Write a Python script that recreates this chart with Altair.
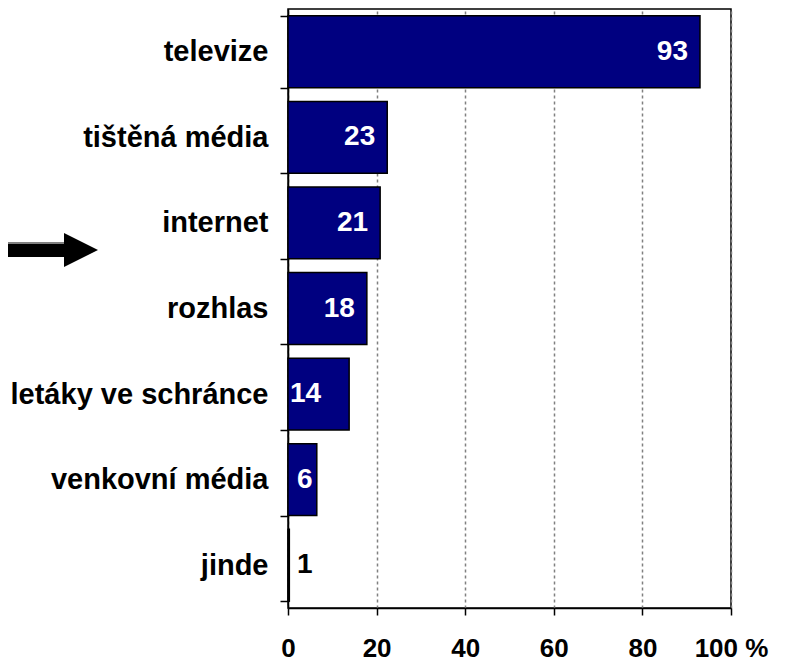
import altair as alt
import pandas as pd

categories = ["televize", "tištěná média", "internet", "rozhlas",
              "letáky ve schránce", "venkovní média", "jinde"]
bar_lengths = [93.0, 22.4, 20.8, 17.8, 13.8, 6.5, 0.3]
labels = [93, 23, 21, 18, 14, 6, 1]
x_ticks = [0, 20, 40, 60, 80, 100]

df = pd.DataFrame({"cat": categories, "share": bar_lengths, "label": labels})

FONT = "Arial"

y_enc = alt.Y(
    "cat:N", sort=categories,
    scale=alt.Scale(paddingInner=0.16, paddingOuter=0.08),
    axis=alt.Axis(title=None, tickBand="extent", labelFont=FONT, labelFontSize=29,
                  labelFontWeight="bold", labelColor="black", labelPadding=12,
                  tickSize=8, tickColor="black", tickWidth=1.5,
                  domainColor="black", domainWidth=1.5, labelLimit=400),
)
x_enc = alt.X(
    "share:Q",
    scale=alt.Scale(domain=[0, 100], nice=False),
    axis=alt.Axis(title=None, values=x_ticks,
                  labelExpr="datum.value == 100 ? '100 %' : datum.label",
                  labelFont=FONT, labelFontSize=26, labelFontWeight="bold",
                  labelColor="black", labelPadding=20, tickSize=7,
                  labelBaseline="top",
                  labelFlush=False, labelOverlap=False,
                  tickColor="black", tickWidth=1.5, domainColor="black",
                  domainWidth=1.5, grid=True, gridColor="#808080",
                  gridDash=[3, 3], gridWidth=1.5),
)

base = alt.Chart(df)

bars = base.mark_bar(color="#000080", stroke="black", strokeWidth=1.5).encode(
    x=x_enc, y=y_enc)

txt_big = base.transform_filter("datum.label >= 15").mark_text(
    align="right", baseline="middle", dx=-12, color="white", font=FONT,
    fontSize=28, fontWeight="bold").encode(
    x="share:Q", y=alt.Y("cat:N", sort=categories), text="label:Q")

txt_mid = base.transform_filter("datum.label < 15 && datum.label >= 10").mark_text(
    align="left", baseline="middle", dx=2, color="white", font=FONT,
    fontSize=28, fontWeight="bold").encode(
    x=alt.datum(0), y=alt.Y("cat:N", sort=categories), text="label:Q")

txt_small = base.transform_filter("datum.label < 10").mark_text(
    align="left", baseline="middle", dx=9, font=FONT,
    fontSize=28, fontWeight="bold").encode(
    x=alt.datum(0), y=alt.Y("cat:N", sort=categories), text="label:Q",
    color=alt.condition("datum.share > 3", alt.value("white"), alt.value("black")))

one = alt.Chart(pd.DataFrame({"a": [0]}))
shaft = one.mark_rect(color="black").encode(
    x=alt.value(-280), x2=alt.value(-222), y=alt.value(234), y2=alt.value(248))
shaft_hi = one.mark_rule(color="#808080", strokeWidth=2).encode(
    x=alt.value(-280), x2=alt.value(-222), y=alt.value(234))
head = one.mark_point(shape="M-1,-1L1,0L-1,1Z", size=1156, filled=True,
                      color="black", opacity=1).encode(
    x=alt.value(-207), y=alt.value(241))

chart = alt.layer(bars, txt_big, txt_mid, txt_small, shaft, shaft_hi, head).properties(
    width=443, height=599,
    autosize=alt.AutoSizeParams(type="none"),
    padding={"left": 280, "top": 1, "right": 45, "bottom": 54},
    background="white",
).configure_view(stroke="black", strokeWidth=1.5)

chart.save("out.html", embed_options={"renderer": "svg", "actions": False})
